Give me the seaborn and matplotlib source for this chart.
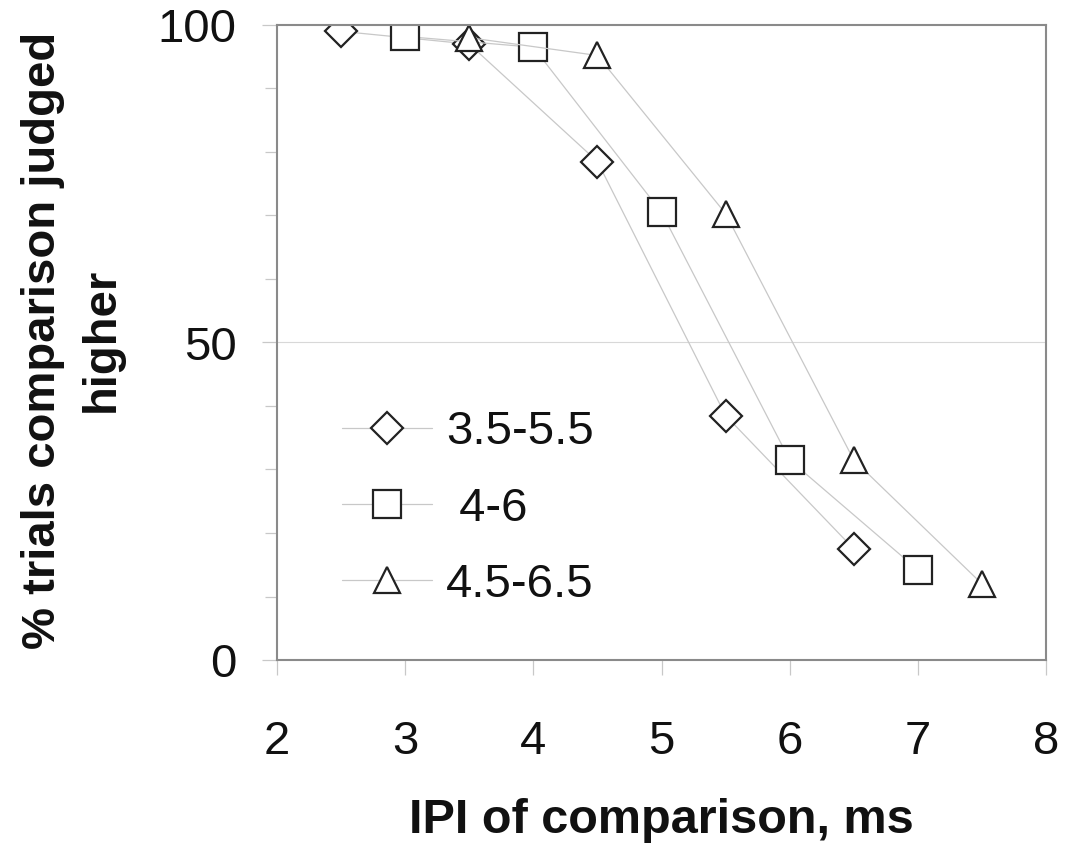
import matplotlib
matplotlib.use("Agg")
import matplotlib.pyplot as plt
import seaborn as sns
import pandas as pd
from matplotlib.ticker import MultipleLocator

# ---- data ----
series_names = ["3.5-5.5", " 4-6", "4.5-6.5"]
x_diamond = [2.5, 3.5, 4.5, 5.5, 6.5]
y_diamond = [99, 97, 78.5, 38.5, 17.5]
x_square = [3, 4, 5, 6, 7]
y_square = [98.2, 96.5, 70.5, 31.5, 14.2]
x_triangle = [3.5, 4.5, 5.5, 6.5, 7.5]
y_triangle = [98.0, 95.2, 70.3, 31.5, 12.0]
x_ticks = [2, 3, 4, 5, 6, 7, 8]
y_ticks = [0, 50, 100]

df = pd.concat([
    pd.DataFrame({"x": x_diamond, "y": y_diamond, "range": series_names[0]}),
    pd.DataFrame({"x": x_square, "y": y_square, "range": series_names[1]}),
    pd.DataFrame({"x": x_triangle, "y": y_triangle, "range": series_names[2]}),
])

sns.set_theme(style="white")
plt.rcParams["font.family"] = ["Liberation Sans", "DejaVu Sans"]

fig = plt.figure(figsize=(10.7, 8.46), dpi=100)
ax = fig.add_axes([277 / 1070, 1 - 660 / 846, 769 / 1070, 635 / 846])

line_col = "#c8c8c8"
edge_col = "#222222"
markers = {series_names[0]: "D", series_names[1]: "s", series_names[2]: "^"}
sizes = {series_names[0]: 16, series_names[1]: 20, series_names[2]: 18.5}

for name in series_names:
    sub = df[df["range"] == name]
    sns.lineplot(data=sub, x="x", y="y", ax=ax, color=line_col, lw=0.9,
                 marker=markers[name], markersize=sizes[name],
                 markerfacecolor="white", markeredgecolor=edge_col,
                 markeredgewidth=1.6, label=name, sort=False)

ax.set_xlim(2, 8)
ax.set_ylim(0, 100)
ax.set_xticks(x_ticks)
ax.set_yticks(y_ticks)
ax.yaxis.set_minor_locator(MultipleLocator(10))
ax.axhline(50, color="#d8d8d8", lw=0.8, zorder=0)

for sp in ax.spines.values():
    sp.set_visible(True)
    sp.set_color("#8a8a8a")
    sp.set_linewidth(1.5)

ax.tick_params(axis="both", which="major", labelsize=34, colors="#c8c8c8",
               labelcolor="#111111", length=11, width=0.9, direction="out")
ax.tick_params(axis="y", which="major", pad=18, left=True)
ax.tick_params(axis="x", which="major", pad=32, bottom=True)
ax.tick_params(axis="y", which="minor", length=9, width=0.9, colors="#c8c8c8",
               left=True, direction="out")

ax.set_xlabel("IPI of comparison, ms", fontsize=35, fontweight="bold", color="#111111")
ax.set_ylabel("% trials comparison judged\nhigher", fontsize=34, fontweight="bold",
              color="#111111", linespacing=1.45)
ax.xaxis.set_label_coords(0.5, -0.218)
ax.yaxis.set_label_coords(-0.199, 0.504)

leg = ax.legend(loc="upper left", bbox_to_anchor=(0.0845, 0.393), frameon=False,
                fontsize=34, handlelength=1.9, handletextpad=0.3,
                labelspacing=0.68, borderaxespad=0, borderpad=0)
for t in leg.get_texts():
    t.set_color("#111111")

fig.savefig("out.png", dpi=100)
